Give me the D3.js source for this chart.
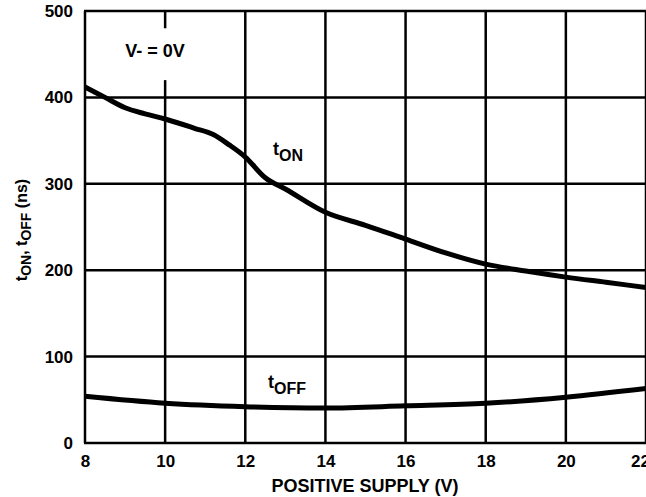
<!DOCTYPE html>
<html>
<head>
<meta charset="utf-8">
<script src="https://cdn.jsdelivr.net/npm/d3@7"></script>
<style>
  body { margin: 0; background: #fff; }
  svg text { font-family: "Liberation Sans", Arial, sans-serif; font-weight: bold; fill: #000; }
</style>
</head>
<body>
<script>
const supply = [8, 8.5, 9, 9.5, 10, 10.75, 11.2, 11.6, 12, 12.5, 13, 14, 15, 16, 17, 18, 19, 20, 21, 22]
const tOn = [412, 400, 388, 381, 375, 364, 357, 345, 331, 307, 294, 267, 252, 236, 220, 207, 199, 192, 186, 180]
const offSupply = [8, 10, 12, 14, 16, 18, 20, 22]
const tOff = [54, 46, 42, 40.5, 43, 46, 53, 63]
const xTicks = [8, 10, 12, 14, 16, 18, 20, 22]
const yTicks = [0, 100, 200, 300, 400, 500]

const w = 646
const h = 497
const padLeft = 85, padRight = 646, padTop = 11, padBottom = 443

const svg = d3.select('body').append('svg')
  .attr('width', w)
  .attr('height', h)

const x = d3.scaleLinear().domain([8, 22]).range([padLeft, padRight])
const y = d3.scaleLinear().domain([0, 500]).range([padBottom, padTop])

// grid
svg.append('g')
  .selectAll('line')
  .data(xTicks)
  .enter()
  .append('line')
  .attr('x1', d => x(d)).attr('x2', d => x(d))
  .attr('y1', padTop).attr('y2', padBottom)
  .attr('stroke', '#000').attr('stroke-width', 2.5)

svg.append('g')
  .selectAll('line')
  .data(yTicks)
  .enter()
  .append('line')
  .attr('x1', padLeft - 1).attr('x2', padRight)
  .attr('y1', d => y(d)).attr('y2', d => y(d))
  .attr('stroke', '#000').attr('stroke-width', 2.5)

// white box behind the note
svg.append('rect')
  .attr('x', x(9.1)).attr('y', y(480))
  .attr('width', x(11.7) - x(9.1)).attr('height', y(420) - y(480))
  .attr('fill', '#fff')

svg.append('text')
  .attr('x', 155).attr('y', 57)
  .attr('text-anchor', 'middle')
  .style('font-size', '18px')
  .text('V- = 0V')

// axes labels
const xAxis = d3.axisBottom(x).tickValues(xTicks).tickSize(0).tickPadding(12)
const xg = svg.append('g')
  .attr('transform', 'translate(0,' + padBottom + ')')
  .call(xAxis)
xg.select('.domain').remove()
xg.selectAll('text').style('font-size', '17px').style('font-family', '"Liberation Sans", Arial, sans-serif').style('font-weight', 'bold')
xg.selectAll('text').filter(d => d === 22).attr('dx', -6)

const yAxis = d3.axisLeft(y).tickValues(yTicks).tickSize(0).tickPadding(12)
const yg = svg.append('g')
  .attr('transform', 'translate(' + padLeft + ',0)')
  .call(yAxis)
yg.select('.domain').remove()
yg.selectAll('text').style('font-size', '17px').style('font-family', '"Liberation Sans", Arial, sans-serif').style('font-weight', 'bold')

// curves
const line = d3.line()
  .x(d => x(d[0]))
  .y(d => y(d[1]))
  .curve(d3.curveMonotoneX)

svg.append('path')
  .datum(supply.map((s, i) => [s, tOn[i]]))
  .attr('d', line)
  .attr('fill', 'none').attr('stroke', '#000').attr('stroke-width', 5)

svg.append('path')
  .datum(offSupply.map((s, i) => [s, tOff[i]]))
  .attr('d', line)
  .attr('fill', 'none').attr('stroke', '#000').attr('stroke-width', 5)

// curve labels
const onLabel = svg.append('text').attr('x', 273).attr('y', 155).style('font-size', '18px')
onLabel.append('tspan').text('t')
onLabel.append('tspan').attr('dy', 6).style('font-size', '16px').text('ON')

const offLabel = svg.append('text').attr('x', 268).attr('y', 388).style('font-size', '18px')
offLabel.append('tspan').text('t')
offLabel.append('tspan').attr('dy', 6).style('font-size', '16px').text('OFF')

// titles
svg.append('text')
  .attr('x', 365).attr('y', 492)
  .attr('text-anchor', 'middle')
  .style('font-size', '18px')
  .text('POSITIVE SUPPLY (V)')

const yTitle = svg.append('text')
  .attr('transform', 'translate(27,230) rotate(-90)')
  .attr('text-anchor', 'middle')
  .style('font-size', '16px')
yTitle.append('tspan').text('t')
yTitle.append('tspan').attr('dy', 4).style('font-size', '14px').text('ON')
yTitle.append('tspan').attr('dy', -4).text(', t')
yTitle.append('tspan').attr('dy', 4).style('font-size', '14px').text('OFF')
yTitle.append('tspan').attr('dy', -4).text(' (ns)')
</script>
</body>
</html>
